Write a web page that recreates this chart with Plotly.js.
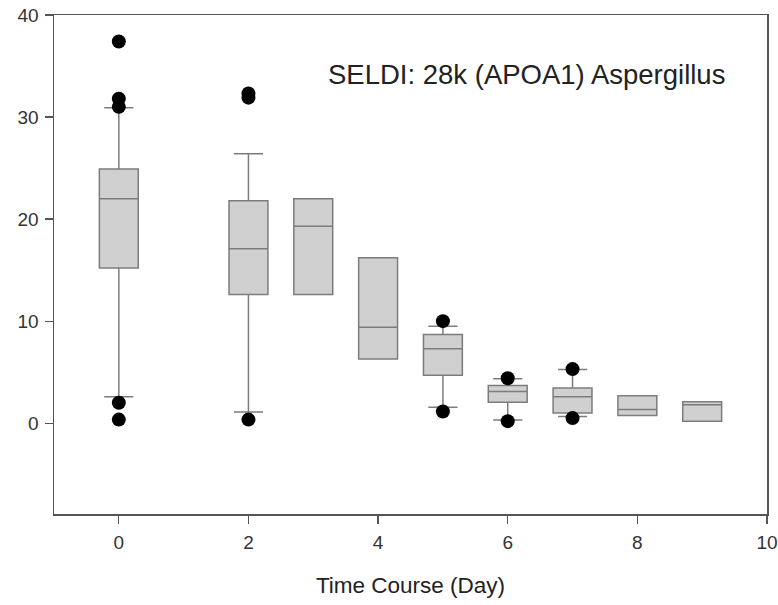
<!DOCTYPE html>
<html>
<head>
<meta charset="utf-8">
<script src="https://cdn.plot.ly/plotly-3.0.1.min.js"></script>
<style>html,body{margin:0;padding:0;background:#fff;}#chart{width:778px;height:605px;}</style>
</head>
<body>
<div id="chart"></div>
<script>
// Day categories
var days = [0, 2, 3, 4, 5, 6, 7, 8, 9];
// Box statistics
var q1Vals     = [15.2, 12.6, 12.6, 6.3, 4.7, 2.05, 1.0, 0.75, 0.2];
var medianVals = [22.0, 17.1, 19.3, 9.4, 7.3, 3.1, 2.6, 1.35, 1.8];
var q3Vals     = [24.9, 21.8, 22.0, 16.2, 8.7, 3.7, 3.45, 2.7, 2.1];
var lowerVals  = [2.6, 1.1, 12.6, 6.3, 1.55, 0.3, 0.65, 0.75, 0.2];
var upperVals  = [30.9, 26.4, 22.0, 16.2, 9.5, 4.35, 5.25, 2.7, 2.1];
// Outliers
var outlierDays = [0, 0, 0, 0, 0, 2, 2, 2, 5, 5, 6, 6, 7, 7];
var outlierVals = [37.4, 31.8, 31.0, 2.0, 0.35, 32.3, 31.9, 0.35, 10.0, 1.15, 4.4, 0.2, 5.3, 0.5];
// Axis ticks
var xTicks = [0, 2, 4, 6, 8, 10];
var yTicks = [0, 10, 20, 30, 40];
var titleText = 'SELDI: 28k (APOA1) Aspergillus';
var xTitle = 'Time Course (Day)';

var boxTrace = {
  type: 'box',
  x: days,
  q1: q1Vals,
  median: medianVals,
  q3: q3Vals,
  lowerfence: lowerVals,
  upperfence: upperVals,
  width: 0.6,
  whiskerwidth: 0.75,
  boxpoints: false,
  fillcolor: '#d0d0d0',
  line: {color: '#7c7c7c', width: 1.5},
  hoverinfo: 'skip',
  showlegend: false
};
var outTrace = {
  type: 'scatter',
  mode: 'markers',
  x: outlierDays,
  y: outlierVals,
  marker: {color: '#000', size: 14},
  showlegend: false,
  hoverinfo: 'skip'
};
var font = {family: 'Liberation Sans, Arial, sans-serif', color: '#222'};
var layout = {
  width: 778, height: 605,
  margin: {l: 54, r: 11, t: 15, b: 91},
  paper_bgcolor: '#fff', plot_bgcolor: '#fff',
  showlegend: false,
  font: font,
  xaxis: {
    range: [-1, 10], tickvals: xTicks, ticktext: xTicks.map(String),
    showgrid: false, zeroline: false,
    showline: true, mirror: true, linecolor: '#555', linewidth: 1.5,
    ticks: 'outside', ticklen: 8, tickcolor: '#555', tickwidth: 1.2,
    tickfont: {size: 19, family: font.family, color: '#333'},
    ticklabelstandoff: 3,
    title: {text: xTitle, font: {size: 22.5, family: font.family, color: '#222'}, standoff: 25}
  },
  yaxis: {
    range: [-8.9, 40], tickvals: yTicks, ticktext: yTicks.map(String),
    showgrid: false, zeroline: false,
    showline: true, mirror: true, linecolor: '#555', linewidth: 1.5,
    ticks: 'outside', ticklen: 8, tickcolor: '#555', tickwidth: 1.2,
    tickfont: {size: 19, family: font.family, color: '#333'},
    ticklabelstandoff: 2
  },
  annotations: [{
    xref: 'paper', yref: 'paper', x: 0.662, y: 0.88,
    xanchor: 'center', yanchor: 'middle', showarrow: false,
    text: titleText, font: {size: 27.5, family: font.family, color: '#222'}
  }]
};
Plotly.newPlot('chart', [boxTrace, outTrace], layout, {displayModeBar: false, staticPlot: true});
</script>
</body>
</html>
